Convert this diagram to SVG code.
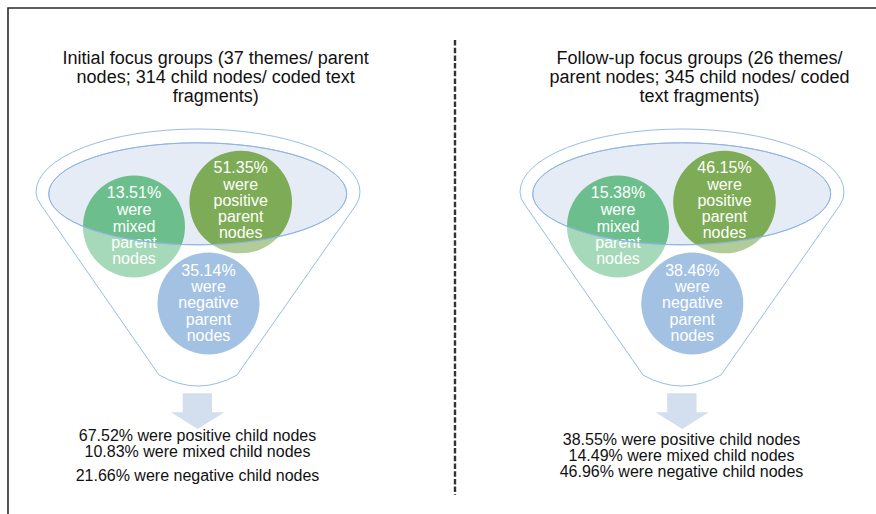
<svg xmlns="http://www.w3.org/2000/svg" width="876" height="514" viewBox="0 0 876 514">
<style>
text{font-family:"Liberation Sans",Arial,sans-serif;text-anchor:middle}
.title{font-size:18px;fill:#111}
.bot{font-size:16px;fill:#111}
.ct{font-size:16px;fill:#fff}
.ellfill{fill:#e5ecf6}
.ellline{fill:none;stroke:#8db3e2;stroke-width:0.9}
.over{fill:#fff;fill-opacity:0.4;fill-rule:evenodd;stroke:#8db3e2;stroke-width:0.9}
.mixed{fill:#6cbf8c}
.pos{fill:#7eab55}
.neg{fill:#6799d0}
.arrow{fill:#d3deee}
</style>
<rect width="876" height="514" fill="#fff"/>
<g id="frame" fill="none" stroke="#2a2a2a" stroke-width="1.6">
<path d="M8,514 V8 H876"/>
</g>
<g id="divider">
<line x1="455" y1="40" x2="455" y2="495" stroke="#333" stroke-width="2.4" stroke-dasharray="5.5 2.2"/>
</g>

<g id="left-panel">
<text class="title" x="215.7" y="63.5">Initial focus groups (37 themes/ parent</text>
<text class="title" x="215.7" y="83">nodes; 314 child nodes/ coded text</text>
<text class="title" x="215.7" y="102">fragments)</text>
<ellipse class="ellfill" cx="197.7" cy="193.8" rx="149" ry="51"/>
<g id="left-mixed">
<circle class="mixed" cx="134" cy="226.5" r="51"/>
<text class="ct" x="134" y="198.3">13.51%</text>
<text class="ct" x="134" y="215">were</text>
<text class="ct" x="134" y="231.5">mixed</text>
<text class="ct" x="134" y="247.5">parent</text>
<text class="ct" x="134" y="263.5">nodes</text>
</g>
<g id="left-positive">
<circle class="pos" cx="240.7" cy="202" r="51.3"/>
<text class="ct" x="240.7" y="173.3">51.35%</text>
<text class="ct" x="240.7" y="190">were</text>
<text class="ct" x="240.7" y="206">positive</text>
<text class="ct" x="240.7" y="222.3">parent</text>
<text class="ct" x="240.7" y="238.3">nodes</text>
</g>
<g id="left-negative">
<circle class="neg" cx="208.5" cy="303.5" r="51"/>
<text class="ct" x="208.5" y="276">35.14%</text>
<text class="ct" x="208.5" y="292.3">were</text>
<text class="ct" x="208.5" y="308.3">negative</text>
<text class="ct" x="208.5" y="325">parent</text>
<text class="ct" x="208.5" y="340.7">nodes</text>
</g>
<path id="left-funnel" class="over" d="M41,205 Q36,199 36,192 A162,63 0 0 1 360,192 Q360,199 356,205 L237,375 Q198,397 159,375 Z M48.7,193.8 A149,51 0 1 0 346.7,193.8 A149,51 0 1 0 48.7,193.8 Z"/>
<ellipse class="ellline" cx="197.7" cy="193.8" rx="149" ry="51"/>
<g id="left-result">
<text class="bot" x="197.5" y="441">67.52% were positive child nodes</text>
<text class="bot" x="197.5" y="457">10.83% were mixed child nodes</text>
<text class="bot" x="197.5" y="480.5">21.66% were negative child nodes</text>
</g>
</g>

<g id="right-panel">
<text class="title" x="699.5" y="63.5">Follow-up focus groups (26 themes/</text>
<text class="title" x="699.5" y="83">parent nodes; 345 child nodes/ coded</text>
<text class="title" x="699.5" y="102">text fragments)</text>
<ellipse class="ellfill" cx="681.7" cy="193.8" rx="149" ry="51"/>
<g id="right-mixed">
<circle class="mixed" cx="618" cy="226.5" r="51"/>
<text class="ct" x="618" y="198.3">15.38%</text>
<text class="ct" x="618" y="215">were</text>
<text class="ct" x="618" y="231.5">mixed</text>
<text class="ct" x="618" y="247.5">parent</text>
<text class="ct" x="618" y="263.5">nodes</text>
</g>
<g id="right-positive">
<circle class="pos" cx="724.5" cy="202" r="51.3"/>
<text class="ct" x="724.5" y="173.3">46.15%</text>
<text class="ct" x="724.5" y="190">were</text>
<text class="ct" x="724.5" y="206">positive</text>
<text class="ct" x="724.5" y="222.3">parent</text>
<text class="ct" x="724.5" y="238.3">nodes</text>
</g>
<g id="right-negative">
<circle class="neg" cx="692.3" cy="303.5" r="51"/>
<text class="ct" x="692.3" y="276">38.46%</text>
<text class="ct" x="692.3" y="292.3">were</text>
<text class="ct" x="692.3" y="308.3">negative</text>
<text class="ct" x="692.3" y="325">parent</text>
<text class="ct" x="692.3" y="340.7">nodes</text>
</g>
<path id="right-funnel" class="over" d="M525,205 Q520,199 520,192 A162,63 0 0 1 844,192 Q844,199 840,205 L721,375 Q682,397 643,375 Z M532.7,193.8 A149,51 0 1 0 830.7,193.8 A149,51 0 1 0 532.7,193.8 Z"/>
<ellipse class="ellline" cx="681.7" cy="193.8" rx="149" ry="51"/>
<g id="right-result">
<text class="bot" x="681.5" y="444.5">38.55% were positive child nodes</text>
<text class="bot" x="681.5" y="461">14.49% were mixed child nodes</text>
<text class="bot" x="681.5" y="477">46.96% were negative child nodes</text>
</g>
</g>

<g id="connectors">
<path class="arrow" d="M182.7,393.3 H212 V412.3 H224.3 L197.7,429 L171,412.3 H182.7 Z"/>
<path class="arrow" d="M667.2,393.3 H696.5 V412.3 H708.8 L682.2,429 L655.5,412.3 H667.2 Z"/>
</g>
</svg>
